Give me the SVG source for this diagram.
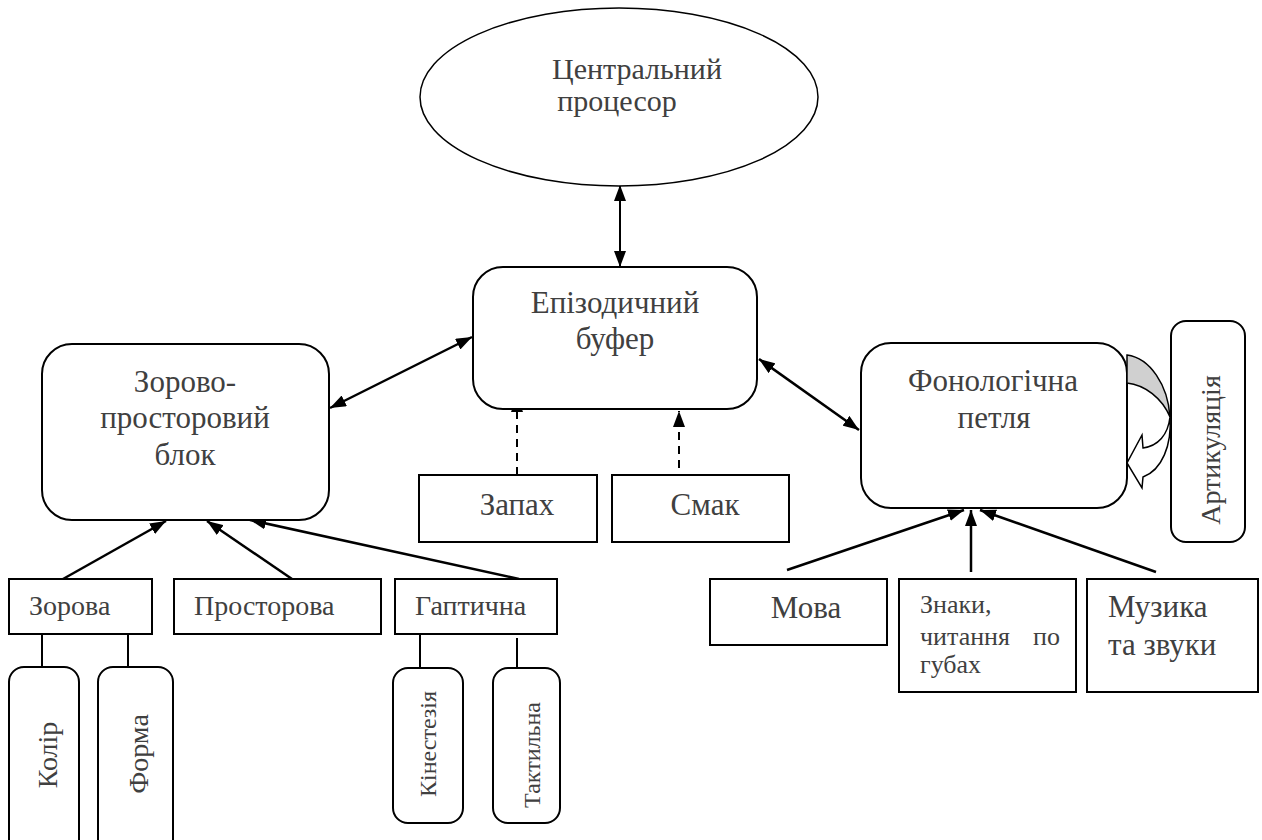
<svg xmlns="http://www.w3.org/2000/svg" width="1262" height="840" viewBox="0 0 1262 840" font-family="'Liberation Serif', 'DejaVu Serif', serif">
<style>
.box{fill:#fff;stroke:#000;stroke-width:2}
text{font-family:'Liberation Serif','DejaVu Serif',serif;fill:#404040}
.big{font-size:31px}
.cp{font-size:30px}
.mid{font-size:28px}
.sm{font-size:26px}
.xs{font-size:24px}
.c{text-anchor:middle}
.ln{stroke:#000;stroke-width:2.5;fill:none}
.thin{stroke:#000;stroke-width:2;fill:none}
</style>
<defs>
<marker id="ah" viewBox="0 0 16 12" refX="16" refY="6" markerWidth="16" markerHeight="12" markerUnits="userSpaceOnUse" orient="auto-start-reverse">
<path d="M0,0 L16,6 L0,12 Z" fill="#000"/>
</marker>
</defs>
<rect width="1262" height="840" fill="#fff"/>

<g id="connectors">
<line class="thin" x1="620" y1="185" x2="620" y2="267" marker-start="url(#ah)" marker-end="url(#ah)"/>
<line class="ln" x1="330" y1="408" x2="472" y2="337" marker-start="url(#ah)" marker-end="url(#ah)"/>
<line class="ln" x1="759" y1="359" x2="859" y2="430" marker-start="url(#ah)" marker-end="url(#ah)"/>
<line class="thin" x1="517" y1="475" x2="517" y2="396" stroke-dasharray="8 6" marker-end="url(#ah)"/>
<line class="thin" x1="679" y1="468" x2="679" y2="411" stroke-dasharray="8 6" marker-end="url(#ah)"/>
<line class="ln" x1="63" y1="579" x2="166" y2="521" marker-end="url(#ah)"/>
<line class="ln" x1="292" y1="579" x2="207" y2="521" marker-end="url(#ah)"/>
<line class="ln" x1="519" y1="579" x2="250" y2="520" marker-end="url(#ah)"/>
<line class="thin" x1="42" y1="634" x2="42" y2="667"/>
<line class="thin" x1="128" y1="634" x2="128" y2="667"/>
<line class="thin" x1="420" y1="628" x2="420" y2="668"/>
<line class="thin" x1="517" y1="638" x2="517" y2="668"/>
<line class="ln" x1="787" y1="570" x2="964" y2="510" marker-end="url(#ah)"/>
<line class="ln" x1="971" y1="572" x2="971" y2="510" marker-end="url(#ah)"/>
<line class="ln" x1="1156" y1="572" x2="980" y2="510" marker-end="url(#ah)"/>
</g>

<g id="central">
<ellipse cx="619" cy="97" rx="199" ry="89" fill="#fff" stroke="#000" stroke-width="1.5"/>
<text class="cp c" x="637" y="79">Центральний</text>
<text class="cp c" x="617" y="111">процесор</text>
</g>

<g id="episodic">
<rect class="box" x="473" y="267" width="284" height="142" rx="30"/>
<text class="big c" x="615" y="313">Епізодичний</text>
<text class="big c" x="615" y="349">буфер</text>
</g>

<g id="visuospatial">
<rect class="box" x="42" y="344" width="287" height="176" rx="30"/>
<text class="big c" x="185" y="392">Зорово-</text>
<text class="big c" x="185" y="428">просторовий</text>
<text class="big c" x="185" y="465">блок</text>
</g>

<g id="phonological">
<rect class="box" x="861" y="343" width="266" height="165" rx="30"/>
<text class="big c" x="993" y="391">Фонологічна</text>
<text class="big c" x="994" y="428">петля</text>
</g>

<g id="articulation">
<rect class="box" x="1171" y="321" width="74" height="221" rx="15"/>
<text class="mid c" x="1210" y="450" dominant-baseline="central" transform="rotate(-90 1210 450)">Артикуляція</text>
<path d="M1127,355 C1150,358 1168,385 1170,417 C1162,398 1145,385 1127,383 Z" fill="#d0d0d0" stroke="#000" stroke-width="1.5"/>
<path d="M1170,417 C1168,435 1158,446 1143,448 L1142,435 L1127,463 L1142,488 L1143,477 C1162,470 1172,445 1170,417 Z" fill="#fff" stroke="#000" stroke-width="1.5"/>
</g>

<g id="smell">
<rect class="box" x="419" y="475" width="178" height="67"/>
<text class="big c" x="517" y="515">Запах</text>
</g>

<g id="taste">
<rect class="box" x="612" y="475" width="177" height="67"/>
<text class="big c" x="705" y="515">Смак</text>
</g>

<g id="visual">
<rect class="box" x="9" y="579" width="143" height="55"/>
<text class="mid" x="29" y="615">Зорова</text>
</g>

<g id="spatial">
<rect class="box" x="174" y="579" width="207" height="55"/>
<text class="mid" x="194" y="615">Просторова</text>
</g>

<g id="haptic">
<rect class="box" x="395" y="579" width="162" height="55"/>
<text class="mid" x="415" y="615">Гаптична</text>
</g>

<g id="colour">
<rect class="box" x="9" y="667" width="70" height="190" rx="15"/>
<text class="mid c" x="47" y="755" dominant-baseline="central" transform="rotate(-90 47 755)">Колір</text>
</g>

<g id="shape">
<rect class="box" x="98" y="667" width="75" height="190" rx="15"/>
<text class="mid c" x="138" y="754" dominant-baseline="central" transform="rotate(-90 138 754)">Форма</text>
</g>

<g id="kinesthesia">
<rect class="box" x="393" y="668" width="70" height="155" rx="15"/>
<text class="xs c" x="428" y="744" dominant-baseline="central" transform="rotate(-90 428 744)">Кінестезія</text>
</g>

<g id="tactile">
<rect class="box" x="493" y="668" width="67" height="155" rx="15"/>
<text class="xs c" x="532" y="755" dominant-baseline="central" transform="rotate(-90 532 755)">Тактильна</text>
</g>

<g id="language">
<rect class="box" x="710" y="579" width="177" height="66"/>
<text class="big c" x="806" y="618">Мова</text>
</g>

<g id="signs">
<rect class="box" x="899" y="579" width="177" height="113"/>
<text class="sm" x="920" y="613">Знаки,</text>
<text class="sm" x="920" y="645">читання <tspan x="1033">по</tspan></text>
<text class="sm" x="920" y="673">губах</text>
</g>

<g id="music">
<rect class="box" x="1087" y="579" width="171" height="113"/>
<text class="big" x="1108" y="617">Музика</text>
<text class="big" x="1108" y="655">та звуки</text>
</g>
</svg>
